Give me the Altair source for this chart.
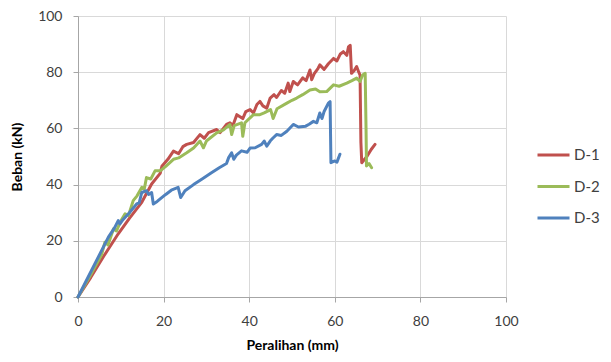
import altair as alt
import pandas as pd

series_names = ["D-1", "D-2", "D-3"]
series_colors = ["#C0504D", "#9BBB59", "#4F81BD"]

d1_x = [0, 3, 6, 9.4, 12, 14.9, 17.2, 19.2, 19.6, 21, 22.3, 23.5, 24.5, 25.4, 27, 28.5, 29.5, 30.5,
        32.4, 33.2, 34.7, 35.5, 36.2, 37.1, 38.5, 39.2, 40.2, 41, 41.8, 42.5, 43.2, 44.1, 44.9, 45.8,
        46.4, 47.5, 48.3, 49.1, 49.5, 50.3, 51.3, 52.5, 53.3, 54.2, 54.6, 55.2, 56.1, 56.5, 57.5,
        58.5, 59.7, 60.5, 61.3, 62, 62.8, 63.2, 63.6, 63.9, 64.5, 65.1, 65.6, 65.9, 66.1, 66.3,
        67.5, 68.5, 69.4]
d1_y = [0, 7, 14.5, 22.5, 28, 33.7, 40.2, 44, 46.5, 49, 51.9, 51, 53.5, 54.3, 55, 57.8, 56.5, 58.5,
        59.6, 58.5, 61.4, 62, 61, 64.9, 63.5, 66, 66.7, 65.5, 68.5, 69.6, 68, 67.2, 70.8, 72,
        71, 73.5, 72.5, 76.1, 73.1, 76.7, 75.5, 78, 77, 80.8, 77.3, 79.5, 81.4, 82.6, 81,
        83, 84.9, 84, 86.5, 87.3, 86, 89, 89.6, 79.6, 80.5, 82, 80, 79, 55, 47.8,
        50, 52.5, 54.3]

d2_x = [0, 3, 5.5, 6.3, 7, 8.3, 9, 10, 11, 11.8, 12.9, 13.8, 14.9, 15.5, 16, 17, 18, 19.2, 20.5,
        22.3, 23.5, 25.4, 27, 28.5, 29.3, 30, 32.4, 34, 35.5, 35.9, 36.5, 38.2, 38.5, 39, 41, 42.5,
        43.5, 45, 45.6, 46.5, 48.8, 50, 51.1, 52.5, 54.2, 55.5, 56.5, 58.1, 59.7, 61, 62.8, 64,
        65.1, 65.9, 66.5, 67.1, 67.3, 67.4, 68, 68.6]
d2_y = [0, 8, 15, 19.5, 18.5, 24.3, 23.5, 27, 29.6, 29, 34.3, 36, 39, 38.5, 42.5, 42, 44.9, 44.9, 46.5,
        49, 49.5, 51.3, 53, 55.5, 53.1, 55.5, 58.4, 59.5, 61.4, 57.8, 61, 62, 57.2, 62, 64.9, 64.9,
        65.5, 66.7, 63.5, 67, 69, 70, 70.8, 72, 73.7, 74, 73, 73.1, 75.5, 75, 76.1, 77,
        77.9, 76.7, 79, 79.6, 60, 46.6, 47.5, 46]

d3_x = [0, 3, 5, 7.1, 8.5, 9.4, 9.8, 10.5, 12, 13.7, 14.3, 14.9, 16, 16.5, 17.2, 17.6, 18.5, 19.2,
        20.5, 21.8, 23.4, 24, 25, 27, 29, 31, 33, 34.7, 35.2, 35.9, 36.4, 37, 38.2, 39.5, 40.2, 41.4,
        42.9, 43.5, 44.1, 44.9, 45.5, 46.4, 47.5, 48.8, 50.3, 51.5, 53.2, 54, 55, 55.8, 56.5, 57,
        57.5, 58.5, 58.9, 59.1, 60, 60.5, 61.2]
d3_y = [0, 9, 15, 21.3, 24.5, 27.2, 26, 27.5, 30, 33.1, 33.5, 37.2, 37.8, 36.5, 37.2, 33.1, 34, 34.9,
        36.5, 38, 39, 35.4, 37.8, 40, 42, 44, 46, 47.5, 49.6, 51.3, 49, 50.5, 52, 51.5, 53, 53.1,
        54.3, 55.5, 53.7, 55.5, 56.5, 57.8, 57.5, 59, 61.4, 60.5, 60.8, 61.5, 62.5, 62, 65.5, 63.5,
        66, 69, 69.5, 47.8, 48.4, 48, 50.8]

x_ticks = [0, 20, 40, 60, 80, 100]
y_ticks = [0, 20, 40, 60, 80, 100]

rows = []
for name, xs, ys in zip(series_names, [d1_x, d2_x, d3_x], [d1_y, d2_y, d3_y]):
    for i, (a, b) in enumerate(zip(xs, ys)):
        rows.append({"series": name, "x": a, "y": b, "i": i})
df = pd.DataFrame(rows)

FONT = "Lato"

chart = alt.Chart(df).mark_line(strokeWidth=3, strokeJoin="round", strokeCap="round").encode(
    x=alt.X("x:Q", scale=alt.Scale(domain=[0, 100], nice=False),
            axis=alt.Axis(title="Peralihan (mm)", values=x_ticks, grid=True, tickSize=5,
                          labelFlush=False, labelPadding=12, titlePadding=10)),
    y=alt.Y("y:Q", scale=alt.Scale(domain=[0, 100], nice=False),
            axis=alt.Axis(title="Beban (kN)", values=y_ticks, grid=True, tickSize=5,
                          labelFlush=False, labelPadding=11, titlePadding=13)),
    color=alt.Color("series:N", scale=alt.Scale(domain=series_names, range=series_colors),
                    legend=alt.Legend(title=None, orient="none", legendX=458, legendY=131,
                                      symbolType="stroke", symbolSize=1024, symbolStrokeWidth=3,
                                      clipHeight=16, rowPadding=15.5, labelOffset=3,
                                      labelFontSize=15, labelFont=FONT, labelColor="#404040")),
    order="i:Q",
).properties(
    width=428, height=281,
    autosize=alt.AutoSizeParams(type="none"),
    padding={"left": 70, "top": 8, "right": 97, "bottom": 56},
).configure_view(stroke=None).configure_axis(
    labelFont=FONT, labelFontSize=14, labelColor="#404040",
    titleFont=FONT, titleFontSize=14, titleFontWeight="bold", titleColor="#000000",
    gridColor="#D9D9D9", gridWidth=1, domainColor="#A6A6A6", tickColor="#A6A6A6",
)

chart.save("out.html", embed_options={"renderer": "svg", "actions": False})
